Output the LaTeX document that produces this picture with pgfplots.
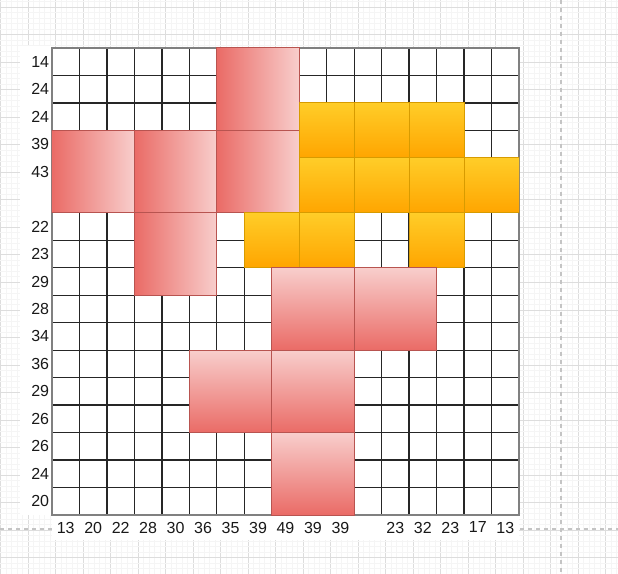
\documentclass[border=0pt]{standalone}
\usepackage{fontspec}
\setmainfont{Liberation Sans}
\usepackage{pgfplots}
\pgfplotsset{compat=1.18}
\definecolor{rdark}{HTML}{EA6B66}
\definecolor{rlight}{HTML}{F8CECC}
\definecolor{rstroke}{HTML}{B85450}
\definecolor{otop}{HTML}{FFCD28}
\definecolor{obot}{HTML}{FFA500}
\definecolor{ostroke}{HTML}{D79B00}
\definecolor{bgmajor}{HTML}{DDDDDD}
\definecolor{bgminor}{HTML}{F5F5F5}
\definecolor{dashc}{HTML}{C4C4C4}
\begin{document}
\begin{tikzpicture}
% background canvas (draw.io style grid), coordinates in pixels
\begin{axis}[name=bg, at={(0pt,0pt)}, anchor=south west, scale only axis,
  width=463.5pt, height=430.5pt,
  xmin=0, xmax=618, ymin=0, ymax=574, y dir=reverse,
  axis line style={draw=none}, tick style={draw=none},
  xticklabels={}, yticklabels={},
  xtick={0.5,28,...,618}, ytick={7.5,35,...,574},
  minor xtick={0.5,6,...,618}, minor ytick={2,7.5,...,574},
  grid=both, major grid style={bgmajor, line width=0.75pt},
  minor grid style={bgminor, line width=0.75pt},
  clip=false]
\addplot[dashc, dash pattern=on 3pt off 3pt, line width=1.1pt, mark=none] coordinates {(561,0) (561,574)};
\addplot[dashc, dash pattern=on 3pt off 3pt, line width=1.1pt, mark=none] coordinates {(0,529) (618,529)};
\addplot[fill=white, draw=none, mark=none] coordinates {(20,46.5) (52,46.5) (52,515) (20,515)} -- cycle;
\addplot[fill=white, draw=none, mark=none] coordinates {(52,515) (519,515) (519,540) (52,540)} -- cycle;
\end{axis}
% main grid chart, coordinates in cells
\begin{axis}[at={(39pt,44.25pt)}, anchor=south west, scale only axis,
  width=350.25pt, height=350.25pt,
  xmin=0, xmax=17, ymin=0, ymax=17, y dir=reverse,
  xtick={0.5,1.5,...,16.5}, ytick={0.5,1.5,...,16.5},
  xticklabels={13,20,22,28,30,36,35,39,49,39,39,{},23,32,23,17,13},
  yticklabels={14,24,24,39,43,{},22,23,29,28,34,36,29,26,26,24,20},
  major tick length=0pt, minor tick length=0pt,
  minor xtick={1,...,16}, minor ytick={1,...,16},
  xminorgrids=true, yminorgrids=true,
  minor grid style={color=black!85, line width=1pt},
  axis line style={color=gray, line width=1.3pt},
  xticklabel style={font=\fontsize{12}{13}\selectfont, text=black!90, inner sep=2pt, yshift=-3pt},
  yticklabel style={font=\fontsize{12}{13}\selectfont, text=black!90, inner sep=2pt},
  axis background/.style={fill=white},
  rh/.style={draw=rstroke, line width=0.75pt, left color=rdark, right color=rlight, mark=none},
  rv/.style={draw=rstroke, line width=0.75pt, top color=rlight, bottom color=rdark, mark=none},
  og/.style={draw=ostroke, line width=0.75pt, top color=otop, bottom color=obot, mark=none}]
% red blocks, horizontal gradient (3x3)
\addplot[rh] coordinates {(6,0) (9,0) (9,3) (6,3)} -- cycle;
\addplot[rh] coordinates {(0,3) (3,3) (3,6) (0,6)} -- cycle;
\addplot[rh] coordinates {(3,3) (6,3) (6,6) (3,6)} -- cycle;
\addplot[rh] coordinates {(6,3) (9,3) (9,6) (6,6)} -- cycle;
\addplot[rh] coordinates {(3,6) (6,6) (6,9) (3,9)} -- cycle;
% orange blocks (2x2)
\addplot[og] coordinates {(9,2) (11,2) (11,4) (9,4)} -- cycle;
\addplot[og] coordinates {(11,2) (13,2) (13,4) (11,4)} -- cycle;
\addplot[og] coordinates {(13,2) (15,2) (15,4) (13,4)} -- cycle;
\addplot[og] coordinates {(9,4) (11,4) (11,6) (9,6)} -- cycle;
\addplot[og] coordinates {(11,4) (13,4) (13,6) (11,6)} -- cycle;
\addplot[og] coordinates {(13,4) (15,4) (15,6) (13,6)} -- cycle;
\addplot[og] coordinates {(15,4) (17,4) (17,6) (15,6)} -- cycle;
\addplot[og] coordinates {(7,6) (9,6) (9,8) (7,8)} -- cycle;
\addplot[og] coordinates {(9,6) (11,6) (11,8) (9,8)} -- cycle;
\addplot[og] coordinates {(13,6) (15,6) (15,8) (13,8)} -- cycle;
% red blocks, vertical gradient (3x3)
\addplot[rv] coordinates {(8,8) (11,8) (11,11) (8,11)} -- cycle;
\addplot[rv] coordinates {(11,8) (14,8) (14,11) (11,11)} -- cycle;
\addplot[rv] coordinates {(5,11) (8,11) (8,14) (5,14)} -- cycle;
\addplot[rv] coordinates {(8,11) (11,11) (11,14) (8,14)} -- cycle;
\addplot[rv] coordinates {(8,14) (11,14) (11,17) (8,17)} -- cycle;
\end{axis}
\pgfresetboundingbox
\path[use as bounding box] (0pt,0pt) rectangle (463.5pt,430.5pt);
\end{tikzpicture}
\end{document}
